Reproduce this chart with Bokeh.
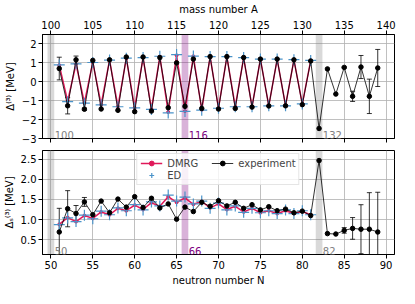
import math
from bokeh.plotting import figure
from bokeh.models import (Range1d, LinearAxis, SingleIntervalTicker, Whisker,
                          ColumnDataSource, Legend, LegendItem, BoxAnnotation, Label,
                          NumeralTickFormatter)
from bokeh.layouts import column
from bokeh.embed import file_html
from bokeh.resources import INLINE

Z = 50
# theory neutron numbers
N_th = list(range(51, 82))
# experiment neutron numbers
N_exp = list(range(51, 90))

# ---- top panel: Delta^(3) ----
dmrg_top = [0.88, -1.02, 0.94, -1.12, 1.03, -1.21, 1.14, -1.31, 1.24, -1.37, 1.27,
            -1.45, 1.33, -1.60, 1.40, -1.55, 1.35, -1.48, 1.32, -1.40, 1.32, -1.32,
            1.27, -1.31, 1.20, -1.27, 1.19, -1.26, 1.16, -1.17, 1.12]
ed_top = [0.89, -1.05, 0.95, -1.13, 1.02, -1.22, 1.15, -1.32, 1.25, -1.38, 1.28,
          -1.46, 1.35, -1.65, 1.44, -1.57, 1.36, -1.50, 1.33, -1.40, 1.33, -1.32,
          1.28, -1.32, 1.20, -1.27, 1.20, -1.27, 1.17, -1.17, 1.13]
exp_top = [0.70, -1.27, 1.16, -1.45, 1.13, -1.44, 1.16, -1.51, 1.31, -1.58, 1.31,
           -1.55, 1.28, -1.37, 1.00, -1.30, 1.20, -1.41, 1.33, -1.44, 1.33, -1.41,
           1.28, -1.34, 1.20, -1.28, 1.20, -1.27, 1.16, -1.21, 1.10, -2.47, 0.68,
           -0.65, 0.76, -0.77, 0.78, -0.77, 0.73]
err_top = [0.60, 0.43, 0.20, 0.06, 0, 0, 0, 0, 0, 0, 0, 0, 0, 0, 0, 0, 0, 0, 0, 0,
           0, 0, 0, 0, 0, 0, 0, 0, 0, 0, 0, 0, 0, 0, 0.03, 0.27, 0.61, 0.91, 0.98]

# ---- bottom panel: Delta_s^(3) ----
dmrg_bot = [0.88, 1.05, 0.95, 1.10, 1.03, 1.19, 1.12, 1.28, 1.22, 1.36, 1.25, 1.42,
            1.33, 1.57, 1.43, 1.54, 1.38, 1.45, 1.29, 1.39, 1.25, 1.33, 1.19, 1.28,
            1.17, 1.22, 1.15, 1.22, 1.15, 1.20, 1.12]
ed_bot = [0.875, 1.04, 0.95, 1.11, 1.02, 1.21, 1.12, 1.29, 1.22, 1.37, 1.24, 1.44,
          1.34, 1.61, 1.46, 1.56, 1.39, 1.46, 1.28, 1.41, 1.24, 1.34, 1.18, 1.28,
          1.17, 1.22, 1.15, 1.24, 1.15, 1.22, 1.12]
exp_bot = [0.69, 1.27, 1.15, 1.44, 1.12, 1.46, 1.17, 1.51, 1.31, 1.57, 1.30, 1.53,
           1.29, 1.39, 1.01, 1.31, 1.20, 1.43, 1.33, 1.47, 1.34, 1.43, 1.28, 1.37,
           1.24, 1.32, 1.22, 1.26, 1.17, 1.21, 1.10, 2.47, 0.65, 0.64, 0.73, 0.78,
           0.76, 0.76, 0.69]
err_bot = [0.59, 0.45, 0.20, 0.11, 0, 0, 0, 0, 0, 0, 0, 0, 0, 0, 0, 0, 0, 0, 0, 0,
           0, 0, 0, 0, 0, 0, 0, 0, 0, 0, 0, 0, 0, 0, 0.07, 0.27, 0.61, 0.91, 0.99]

# magic / highlighted neutron numbers
magic_N = [50, 82]
mid_N = 66
x_ticks = list(range(50, 95, 5))

FONT = "DejaVu Sans"
DMRG_C = "#e0195a"
ED_C = "#4a93c9"
FW, FH = 352, 104


def style(p):
    p.outline_line_color = "black"
    p.outline_line_width = 1
    for ax in p.axis:
        ax.major_label_text_font = FONT
        ax.major_label_text_font_size = "10px"
        ax.major_label_text_color = "black"
        ax.axis_label_text_font = FONT
        ax.axis_label_text_font_size = "10px"
        ax.axis_label_text_font_style = "normal"
        ax.axis_label_text_color = "black"
        ax.major_tick_out = 4
        ax.major_tick_in = 0
        ax.minor_tick_out = 0
        ax.minor_tick_in = 0
        ax.axis_line_color = "black"
        ax.major_tick_line_color = "black"
        ax.major_label_standoff = 2
        ax.axis_label_standoff = 3
    p.grid.grid_line_color = "#b0b0b0"
    p.grid.grid_line_alpha = 0.8
    p.grid.grid_line_width = 1


def bands(p):
    for n in magic_N:
        p.add_layout(BoxAnnotation(left=n - 0.4, right=n + 0.4, fill_color="gray",
                                   fill_alpha=0.3, line_alpha=0, level="underlay"))
    p.add_layout(BoxAnnotation(left=mid_N - 0.4, right=mid_N + 0.4, fill_color="purple",
                               fill_alpha=0.3, line_alpha=0, level="underlay"))


def labels(p, ymin, offset):
    for n, c in [(magic_N[0], "gray"), (mid_N, "purple"), (magic_N[1], "gray")]:
        p.add_layout(Label(x=n + 0.45, y=ymin, text=str(n + offset), text_color=c,
                           text_font=FONT, text_font_size="10px",
                           text_baseline="bottom", y_offset=0))


def draw(p, dmrg, ed, exp, err):
    r_dl = p.line(N_th, dmrg, line_color=DMRG_C, line_width=1.5)
    r_dc = p.scatter(N_th, dmrg, size=3, color=DMRG_C)
    r_ed = p.scatter(N_th, ed, marker="cross", size=11, line_color=ED_C, line_width=1.2)
    r_el = p.line(N_exp, exp, line_color="black", line_width=0.8)
    r_ec = p.scatter(N_exp, exp, size=4.5, color="black")
    xs = [n for n, e in zip(N_exp, err) if e > 0]
    up = [v + e for v, e in zip(exp, err) if e > 0]
    lo = [v - e for v, e in zip(exp, err) if e > 0]
    src = ColumnDataSource(dict(x=xs, upper=up, lower=lo))
    w = Whisker(base="x", upper="upper", lower="lower", source=src,
                line_color="black", line_width=0.8)
    for h in (w.upper_head, w.lower_head):
        h.size = 5
        h.line_color = "black"
        h.line_width = 0.8
    p.add_layout(w)
    return r_dl, r_dc, r_ed, r_el, r_ec


# ---------------- top figure ----------------
y1 = (-3, 2.5)
p1 = figure(frame_width=FW, frame_height=FH, x_range=Range1d(49, 91),
            y_range=Range1d(*y1), output_backend="svg", toolbar_location=None,
            min_border_left=42, min_border_right=5, min_border_top=0, min_border_bottom=12)
p1.extra_x_ranges = {"A": Range1d(49 + Z, 91 + Z)}
p1.xaxis.ticker = SingleIntervalTicker(interval=5, num_minor_ticks=0)
p1.yaxis.ticker = SingleIntervalTicker(interval=1, num_minor_ticks=0)
p1.yaxis.axis_label = "Δ⁽³⁾ [MeV]"
top_ax = LinearAxis(x_range_name="A", axis_label="mass number A",
                    ticker=SingleIntervalTicker(interval=5, num_minor_ticks=0))
p1.add_layout(top_ax, "above")
style(p1)
bot_ax = p1.below[0]
bot_ax.major_label_overrides = {t: "" for t in x_ticks}
bot_ax.major_label_standoff = 0
bands(p1)
labels(p1, y1[0], Z)
draw(p1, dmrg_top, ed_top, exp_top, err_top)

# ---------------- bottom figure ----------------
y2 = (0.13, 2.72)
p2 = figure(frame_width=FW, frame_height=FH, x_range=p1.x_range, y_range=Range1d(*y2),
            output_backend="svg", toolbar_location=None,
            min_border_left=42, min_border_right=5, min_border_top=0, min_border_bottom=0)
p2.xaxis.ticker = SingleIntervalTicker(interval=5, num_minor_ticks=0)
p2.yaxis.ticker = SingleIntervalTicker(interval=0.5, num_minor_ticks=0)
p2.yaxis.formatter = NumeralTickFormatter(format="0.0")
p2.xaxis.axis_label = "neutron number N"
p2.yaxis.axis_label = "Δₛ⁽³⁾ [MeV]"
style(p2)
bands(p2)
labels(p2, y2[0], 0)
r_dl, r_dc, r_ed, r_el, r_ec = draw(p2, dmrg_bot, ed_bot, exp_bot, err_bot)
# legend-only error-bar glyph (placed outside the visible x range)
r_eb = p2.scatter([0], [1], marker="dash", angle=math.pi / 2, size=12,
                  line_color="black", line_width=0.8)

leg = Legend(items=[LegendItem(label="DMRG", renderers=[r_dl, r_dc]),
                    LegendItem(label="ED", renderers=[r_ed]),
                    LegendItem(label="experiment", renderers=[r_el, r_ec, r_eb])],
             location="top_center", ncols=2)
leg.label_text_font = FONT
leg.label_text_font_size = "10px"
leg.label_height = 12
leg.label_width = 44
leg.glyph_height = 12
leg.glyph_width = 22
leg.spacing = 0
leg.padding = 3
leg.margin = 3
leg.border_line_color = "#cccccc"
leg.background_fill_alpha = 0.8
p2.add_layout(leg)

page = column(p1, p2)
open("out.html", "w").write(file_html(page, INLINE))
